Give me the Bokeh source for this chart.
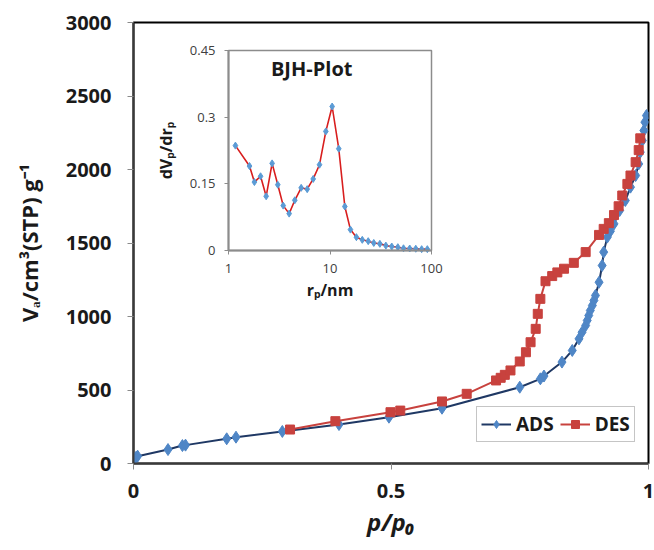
import math
from bokeh.plotting import figure
from bokeh.models import (Range1d, LogScale, LinearAxis, FixedTicker, Legend,
                          LegendItem, Label)
from bokeh.embed import file_html
from bokeh.resources import INLINE

# ---------------- data ----------------
ads_p = [0.0005, 0.002, 0.005, 0.008, 0.067, 0.095, 0.101, 0.181, 0.199, 0.289,
         0.399, 0.496, 0.599, 0.750, 0.790, 0.797, 0.832, 0.852, 0.865, 0.871,
         0.878, 0.881, 0.884, 0.887, 0.891, 0.894, 0.897, 0.904, 0.910, 0.913,
         0.920, 0.926, 0.933, 0.944, 0.955, 0.965, 0.975, 0.981, 0.984, 0.988,
         0.991, 0.993, 0.996]
ads_v = [20, 32, 42, 50, 95, 122, 125, 168, 179, 218,
         265, 315, 376, 519, 576, 595, 690, 769, 848, 893,
         939, 973, 1007, 1041, 1075, 1109, 1143, 1233, 1347, 1438,
         1540, 1580, 1630, 1721, 1789, 1880, 1959, 2038, 2118, 2197,
         2265, 2322, 2367]

des_p = [0.304, 0.392, 0.499, 0.518, 0.599, 0.647, 0.704, 0.713, 0.721, 0.732,
         0.750, 0.762, 0.771, 0.781, 0.785, 0.790, 0.800, 0.813, 0.823, 0.836,
         0.855, 0.878, 0.904, 0.913, 0.923, 0.933, 0.942, 0.949, 0.959, 0.965,
         0.975, 0.981, 0.984]
des_v = [231, 288, 349, 360, 422, 474, 565, 583, 603, 633,
         694, 757, 825, 916, 1018, 1120, 1240, 1275, 1300, 1325,
         1365, 1438, 1555, 1596, 1635, 1690, 1750, 1823, 1902, 1959,
         2050, 2132, 2212]

bjh_r = [1.17, 1.61, 1.80, 2.07, 2.35, 2.69, 3.06, 3.46, 3.96, 4.5,
         5.2, 5.96, 6.83, 7.88, 9.1, 10.5, 12.2, 14.0, 15.9, 18.2,
         20.8, 23.8, 27, 31, 35.5, 40.6, 46.6, 53, 61, 70, 80, 91]
bjh_dv = [0.236, 0.190, 0.154, 0.167, 0.122, 0.196, 0.148, 0.101, 0.083, 0.113,
          0.141, 0.138, 0.161, 0.193, 0.268, 0.324, 0.229, 0.099, 0.047, 0.030,
          0.024, 0.021, 0.017, 0.015, 0.011, 0.009, 0.0075, 0.005, 0.0045, 0.004,
          0.003, 0.003]

main_x_ticks = [0, 0.5, 1]
main_y_ticks = [0, 500, 1000, 1500, 2000, 2500, 3000]
inset_x_ticks = [1, 10, 100]
inset_y_ticks = [0, 0.15, 0.3, 0.45]

# ---------------- layout (canvas pixels) ----------------
W, H = 654, 550
FL, FR, FT, FB = 133, 648, 22, 463          # main frame
IL, IR, IT, IB = 228, 431, 50, 250          # inset frame

FONT = "Open Sans"
ADS_LINE = "#1F3864"
ADS_MARK = "#4F86C6"
DES_COL = "#C8423E"

p = figure(width=W, height=H, x_range=Range1d(0, 1), y_range=Range1d(0, 3000),
           output_backend="svg", toolbar_location=None,
           min_border_left=FL, min_border_right=W - FR,
           min_border_top=FT, min_border_bottom=H - FB)
p.grid.visible = False
p.outline_line_color = "black"
p.outline_line_width = 2
p.background_fill_color = "white"
p.border_fill_color = "white"

xa = p.below[0]
ya = p.left[0]
for ax in (xa, ya):
    ax.axis_line_color = "#3a3a3a"
    ax.axis_line_width = 2
    ax.major_tick_out = 6
    ax.major_tick_in = 0
    ax.major_tick_line_color = "#8a8a8a"
    ax.minor_tick_out = 0
    ax.minor_tick_in = 0
    ax.major_label_text_font = FONT
    ax.major_label_text_font_style = "bold"
    ax.major_label_text_font_size = "20px"
    ax.major_label_text_color = "#1a1a1a"
    ax.axis_label_text_font = FONT
    ax.axis_label_text_color = "#1a1a1a"
xa.ticker = FixedTicker(ticks=main_x_ticks)
ya.ticker = FixedTicker(ticks=main_y_ticks)
xa.major_label_standoff = 14
ya.major_label_standoff = 16
xa.axis_label = "p/p\u2080"
xa.axis_label_text_font_style = "bold italic"
xa.axis_label_text_font_size = "24px"
xa.axis_label_standoff = 4
ya.axis_label = "V\u2090/cm\u00b3(STP) g\u207b\u00b9"
ya.axis_label_text_font_style = "bold"
ya.axis_label_text_font_size = "22px"
ya.axis_label_standoff = 19

# ---------------- inset ranges ----------------
dec = (IR - IL) / (math.log10(inset_x_ticks[-1]) - math.log10(inset_x_ticks[0]))
lx0 = math.log10(inset_x_ticks[0]) - (IL - FL) / dec
lx1 = math.log10(inset_x_ticks[-1]) + (FR - IR) / dec
k = (inset_y_ticks[-1] - inset_y_ticks[0]) / (IB - IT)
iy0 = inset_y_ticks[0] - (FB - IB) * k
iy1 = inset_y_ticks[-1] + (IT - FT) * k
p.extra_x_ranges = {"ix": Range1d(10 ** lx0, 10 ** lx1)}
p.extra_x_scales = {"ix": LogScale()}
p.extra_y_ranges = {"iy": Range1d(iy0, iy1)}

# inset frame
p.quad(left=[inset_x_ticks[0]], right=[inset_x_ticks[-1]],
       bottom=[inset_y_ticks[0]], top=[inset_y_ticks[-1]],
       x_range_name="ix", y_range_name="iy",
       fill_color="white", line_color="#8c8c8c", line_width=1.5)

# main data
ads_l = p.line(ads_p, ads_v, line_color=ADS_LINE, line_width=2)
ads_s = p.scatter(ads_p, ads_v, marker="diamond", size=12, fill_color=ADS_MARK,
                  line_color=ADS_MARK)
des_l = p.line(des_p, des_v, line_color=DES_COL, line_width=2)
des_s = p.scatter(des_p, des_v, marker="square", size=9, fill_color=DES_COL,
                  line_color=DES_COL)

# inset data
p.line(bjh_r, bjh_dv, x_range_name="ix", y_range_name="iy",
       line_color="#D81E1E", line_width=1.6)
p.scatter(bjh_r, bjh_dv, x_range_name="ix", y_range_name="iy",
          marker="diamond", size=7, fill_color="#5B9BD5", line_color="#5B9BD5")

# inset axes
ax_ix = LinearAxis(x_range_name="ix", y_range_name="iy",
                   fixed_location=inset_y_ticks[0],
                   bounds=(inset_x_ticks[0], inset_x_ticks[-1]),
                   ticker=FixedTicker(ticks=inset_x_ticks),
                   axis_label="r\u209a/nm")
ax_iy = LinearAxis(x_range_name="ix", y_range_name="iy",
                   fixed_location=inset_x_ticks[0],
                   bounds=(inset_y_ticks[0], inset_y_ticks[-1]),
                   ticker=FixedTicker(ticks=inset_y_ticks),
                   axis_label="dV\u209a/dr\u209a")
for ax in (ax_ix, ax_iy):
    ax.axis_line_color = "#8c8c8c"
    ax.axis_line_width = 2
    ax.major_tick_out = 4
    ax.major_tick_in = 0
    ax.major_tick_line_color = "#8c8c8c"
    ax.minor_tick_out = 0
    ax.minor_tick_in = 0
    ax.major_label_text_font = FONT
    ax.major_label_text_font_size = "13px"
    ax.major_label_text_color = "#404040"
    ax.major_label_standoff = 9
    ax.axis_label_text_font = FONT
    ax.axis_label_text_font_style = "bold"
    ax.axis_label_text_font_size = "16px"
    ax.axis_label_text_color = "#1a1a1a"
ax_ix.axis_label_standoff = 3
ax_iy.axis_label_standoff = 10
p.add_layout(ax_ix, "below")
p.add_layout(ax_iy, "left")

title = Label(x=6.6, y=0.41, x_range_name="ix", y_range_name="iy",
              text="BJH-Plot", text_align="center", text_baseline="middle",
              text_font=FONT, text_font_style="bold", text_font_size="20px",
              text_color="#1a1a1a")
p.add_layout(title)

legend = Legend(items=[LegendItem(label="ADS", renderers=[ads_l, ads_s]),
                       LegendItem(label="DES", renderers=[des_l, des_s])],
                orientation="horizontal", location=(343, 21),
                label_text_font=FONT, label_text_font_style="bold",
                label_text_font_size="19px", label_text_color="#1a1a1a",
                glyph_width=30, glyph_height=20, label_height=20,
                label_standoff=5, spacing=6,
                padding=4, margin=0, border_line_color="#8c8c8c",
                border_line_width=1.5, background_fill_color="white",
                background_fill_alpha=1)
p.add_layout(legend)

open("out.html", "w").write(file_html(p, INLINE))
